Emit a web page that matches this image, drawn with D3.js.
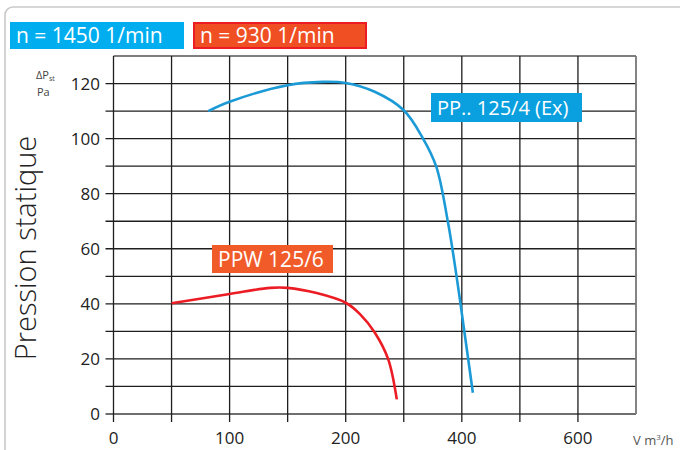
<!DOCTYPE html>
<html lang="fr">
<head>
<meta charset="utf-8">
<title>Pression statique</title>
<script src="https://d3js.org/d3.v7.min.js"></script>
<style>
  body { margin: 0; background: #fff; }
  svg { font-family: "Open Sans", "Noto Sans", sans-serif; }
</style>
</head>
<body>
<script>
// data (m3/h , Pa)
var xGrid = [0, 50, 100, 150, 200, 300, 400, 500, 600, 700];
var xTicks = [0, 100, 200, 400, 600];
var yGrid = [0, 10, 20, 30, 40, 50, 60, 70, 80, 90, 100, 110, 120, 130];
var yTicks = [0, 20, 40, 60, 80, 100, 120];

var flow1450 = [81.6, 100, 150, 180, 200, 250, 300, 333, 356, 376, 391, 404, 419];
var pres1450 = [110, 113.4, 119.4, 120.6, 120.2, 117, 110.3, 100.1, 89.8, 69.8, 49.9, 30.5, 7.7];
var flow930 = [50, 100, 135, 150, 175, 200, 225, 250, 273, 288];
var pres930 = [40.2, 43.6, 45.8, 45.8, 43.9, 40.4, 36.2, 29.6, 20, 5.3];

var legendLabels = ["n = 1450 1/min", "n = 930 1/min"];
var curveLabels = ["PP.. 125/4 (Ex)", "PPW 125/6"];

var W = 680, H = 450;
var svg = d3.select("body").append("svg").attr("width", W).attr("height", H);

// outer frame
svg.append("rect")
    .attr("x", 5).attr("y", 7).attr("width", 700).attr("height", 470)
    .attr("rx", 8)
    .attr("fill", "none").attr("stroke", "#c9c9c9").attr("stroke-width", 1.6);

// the x axis is not linear: 0-200 in steps of 50, then steps of 100
var x = d3.scaleLinear().domain([0, 200, 700]).range([113.5, 345.7, 636]);
var y = d3.scaleLinear().domain([0, 130]).range([414, 56]);

var grid = svg.append("g");

grid.selectAll(".hl").data(yGrid).enter().append("line")
    .attr("x1", function(d) { return d === 130 ? x(0) : x(0) - 8; })
    .attr("x2", x(700))
    .attr("y1", function(d) { return y(d); })
    .attr("y2", function(d) { return y(d); })
    .attr("stroke", function(d) { return d === 0 ? "#6e6e6e" : (d === 130 ? "#555" : "#1e1e1e"); })
    .attr("stroke-width", function(d) { return d === 0 ? 2 : 1.3; });

grid.selectAll(".vl").data(xGrid).enter().append("line")
    .attr("x1", function(d) { return x(d); })
    .attr("x2", function(d) { return x(d); })
    .attr("y1", y(130))
    .attr("y2", function(d) { return d === 700 ? y(0) : y(0) + 8; })
    .attr("stroke", function(d) { return d === 700 ? "#777" : "#1e1e1e"; })
    .attr("stroke-width", function(d) { return d === 700 ? 1.8 : 1.3; });

// tick labels
svg.selectAll(".yt").data(yTicks).enter().append("text")
    .attr("x", 100)
    .attr("y", function(d) { return y(d) + 6; })
    .attr("text-anchor", "end")
    .attr("font-size", 17)
    .attr("fill", "#222")
    .text(function(d) { return d; });

svg.selectAll(".xt").data(xTicks).enter().append("text")
    .attr("x", function(d) { return x(d); })
    .attr("y", 444)
    .attr("text-anchor", "middle")
    .attr("font-size", 17)
    .attr("fill", "#222")
    .text(function(d) { return d; });

// axis titles
svg.append("text")
    .attr("transform", "translate(36,248) rotate(-90)")
    .attr("text-anchor", "middle")
    .attr("font-size", 29)
    .attr("font-weight", 300)
    .attr("fill", "#222")
    .text("Pression statique");

var dp = svg.append("text").attr("x", 36).attr("y", 79).attr("font-size", 11).attr("fill", "#444");
dp.append("tspan").text("ΔP");
dp.append("tspan").attr("font-size", 7).attr("dy", 2).text("st");
svg.append("text").attr("x", 37).attr("y", 96).attr("font-size", 11).attr("fill", "#444").text("Pa");

var vl = svg.append("text").attr("x", 633).attr("y", 445).attr("font-size", 13).attr("fill", "#555");
vl.append("tspan").text("V m");
vl.append("tspan").attr("font-size", 8).attr("dy", -5).text("3");
vl.append("tspan").attr("dy", 5).text("/h");

// curves
var line = d3.line()
    .x(function(d) { return x(d[0]); })
    .y(function(d) { return y(d[1]); })
    .curve(d3.curveCatmullRom.alpha(0.5));

svg.append("path")
    .datum(d3.zip(flow1450, pres1450))
    .attr("d", line)
    .attr("fill", "none").attr("stroke", "#1c9ad6").attr("stroke-width", 2.6);

svg.append("path")
    .datum(d3.zip(flow930, pres930))
    .attr("d", line)
    .attr("fill", "none").attr("stroke", "#ec1c24").attr("stroke-width", 2.6);

// label boxes
function box(bx, by, bw, bh, fill, stroke, txt, fs) {
    svg.append("rect")
        .attr("x", bx).attr("y", by).attr("width", bw).attr("height", bh)
        .attr("fill", fill)
        .attr("stroke", stroke || "none").attr("stroke-width", stroke ? 2 : 0);
    svg.append("text")
        .attr("x", bx + 6).attr("y", by + bh / 2 + fs * 0.36)
        .attr("font-size", fs)
        .attr("fill", "#fff")
        .text(txt);
}

box(10, 22, 174, 27, "#00aeef", null, legendLabels[0], 21);
box(194, 23, 172, 25, "#f04e23", "#ec1c24", legendLabels[1], 21);
box(431, 93, 151, 29, "#0aa0df", null, curveLabels[0], 20);
box(212, 245, 121, 28, "#f15a29", null, curveLabels[1], 21);
</script>
</body>
</html>
